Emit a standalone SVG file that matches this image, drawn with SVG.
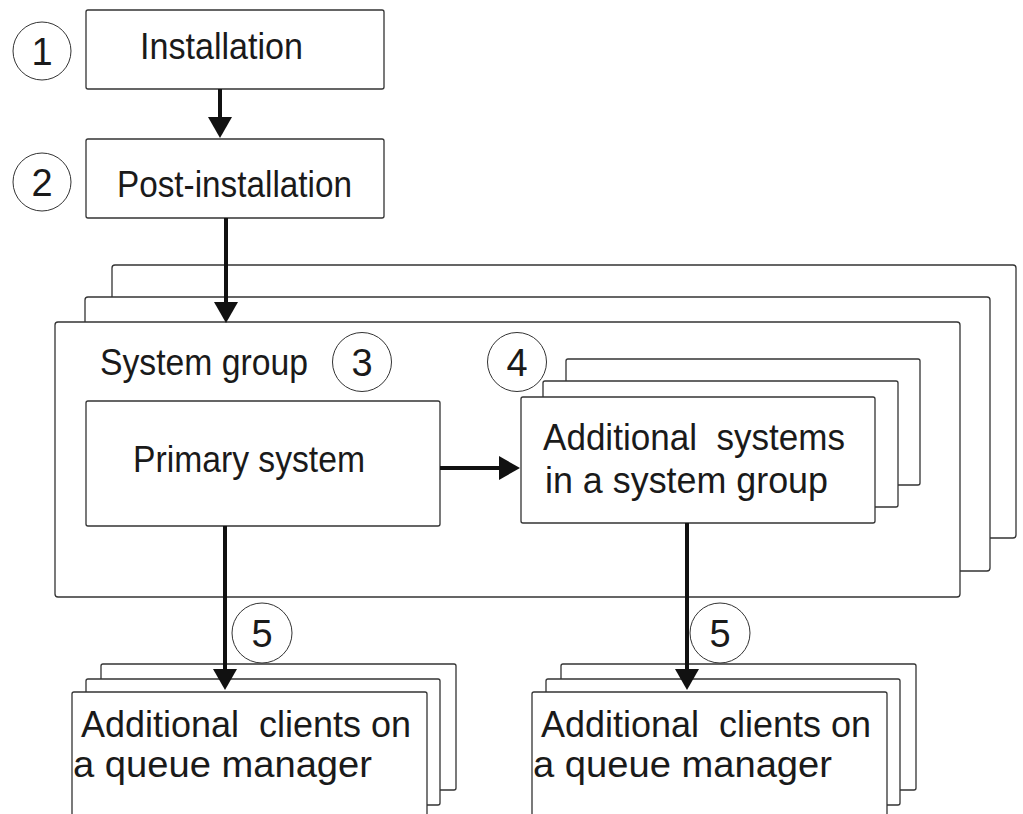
<svg xmlns="http://www.w3.org/2000/svg" width="1023" height="814" viewBox="0 0 1023 814">
<style>
.box{fill:#fff;stroke:#333;stroke-width:1.3}
.num{fill:#fff;stroke:#333;stroke-width:1}
.t{font-family:"Liberation Sans",Arial,sans-serif;font-size:36px;fill:#1a1a1a}
.n{font-family:"Liberation Sans",Arial,sans-serif;font-size:38px;fill:#1a1a1a;text-anchor:middle}
.arr{stroke:#111;stroke-width:4;fill:none;marker-end:url(#ah)}
</style>
<defs>
<marker id="ah" viewBox="0 0 21 24" refX="6" refY="12" markerWidth="21" markerHeight="24" markerUnits="userSpaceOnUse" orient="auto">
<path d="M0,0 L21,12 L0,24 Z" fill="#111"/>
</marker>
</defs>
<rect width="1023" height="814" fill="#fff"/>

<g id="step1">
<rect class="box" x="86" y="10" width="298" height="79" rx="2"/>
<text class="t" x="140" y="59" textLength="163" lengthAdjust="spacingAndGlyphs">Installation</text>
<circle class="num" cx="42" cy="51" r="29"/>
<text class="n" x="42" y="65">1</text>
</g>

<g id="step2">
<rect class="box" x="86" y="139" width="298" height="79" rx="2"/>
<text class="t" x="117" y="197" textLength="235" lengthAdjust="spacingAndGlyphs">Post-installation</text>
<circle class="num" cx="42" cy="182" r="29"/>
<text class="n" x="42" y="196">2</text>
</g>

<g id="system-group">
<rect class="box" x="112" y="265" width="904" height="273" rx="3"/>
<rect class="box" x="85" y="297" width="905" height="274" rx="3"/>
<rect class="box" x="55" y="322" width="905" height="275" rx="3"/>
<text class="t" x="100" y="375" textLength="208" lengthAdjust="spacingAndGlyphs">System group</text>
<circle class="num" cx="362" cy="362" r="29.5"/>
<text class="n" x="362" y="376">3</text>
</g>

<g id="primary-system">
<rect class="box" x="86" y="401" width="354" height="125" rx="2"/>
<text class="t" x="133" y="472" textLength="232" lengthAdjust="spacingAndGlyphs">Primary system</text>
</g>

<g id="additional-systems">
<rect class="box" x="566" y="359" width="354" height="126" rx="2"/>
<rect class="box" x="543" y="381" width="355" height="126" rx="2"/>
<rect class="box" x="521" y="397" width="354" height="126" rx="2"/>
<text class="t" x="543" y="450" textLength="302" lengthAdjust="spacingAndGlyphs" xml:space="preserve">Additional  systems</text>
<text class="t" x="545" y="493" textLength="283" lengthAdjust="spacingAndGlyphs">in a system group</text>
<circle class="num" cx="517" cy="362" r="29.5"/>
<text class="n" x="517" y="376">4</text>
</g>

<g id="clients-left">
<rect class="box" x="101" y="664" width="355" height="126" rx="2"/>
<rect class="box" x="86" y="679" width="354" height="126" rx="2"/>
<rect class="box" x="72" y="692" width="355" height="160" rx="2"/>
<text class="t" x="81" y="737" textLength="330" lengthAdjust="spacingAndGlyphs" xml:space="preserve">Additional  clients on</text>
<text class="t" x="73" y="777" textLength="299" lengthAdjust="spacingAndGlyphs">a queue manager</text>
</g>

<g id="clients-right">
<rect class="box" x="561" y="664" width="355" height="126" rx="2"/>
<rect class="box" x="546" y="679" width="354" height="126" rx="2"/>
<rect class="box" x="532" y="692" width="355" height="160" rx="2"/>
<text class="t" x="541" y="737" textLength="330" lengthAdjust="spacingAndGlyphs" xml:space="preserve">Additional  clients on</text>
<text class="t" x="533" y="777" textLength="299" lengthAdjust="spacingAndGlyphs">a queue manager</text>
</g>

<g id="labels-5">
<circle class="num" cx="262" cy="633" r="30"/>
<text class="n" x="262" y="647">5</text>
<circle class="num" cx="720" cy="633" r="30"/>
<text class="n" x="720" y="647">5</text>
</g>

<g id="connectors">
<line class="arr" x1="220" y1="89" x2="220" y2="123"/>
<line class="arr" x1="226" y1="218" x2="226" y2="308"/>
<line class="arr" x1="440" y1="468" x2="505" y2="468"/>
<line class="arr" x1="225" y1="526" x2="225" y2="675"/>
<line class="arr" x1="687" y1="523" x2="687" y2="675"/>
</g>
</svg>
